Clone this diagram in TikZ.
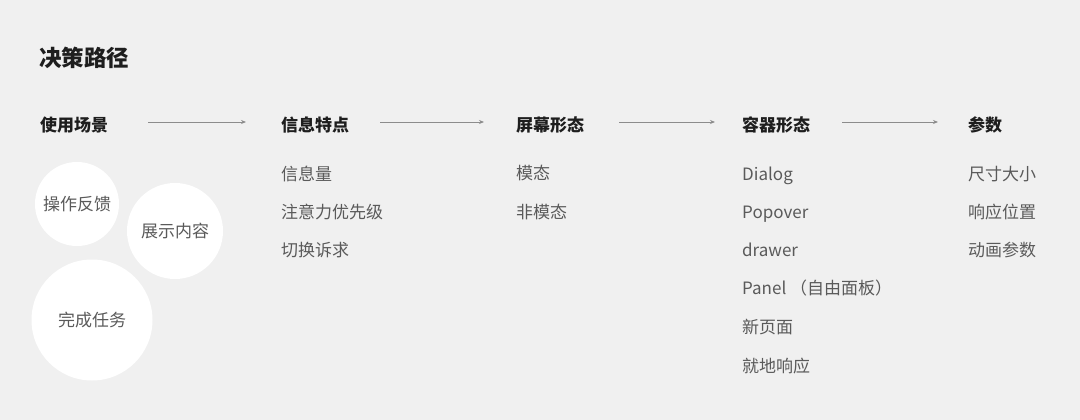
\documentclass[tikz,border=0pt]{standalone}
\usepackage{fontspec}
\usepackage{xcolor}
\usetikzlibrary{arrows.meta,positioning}
\setmainfont{Noto Sans CJK SC}
\definecolor{bgcol}{HTML}{F0F0F0}
\definecolor{itemcol}{HTML}{5A5A5A}
\definecolor{headcol}{HTML}{1E1E1E}
\definecolor{arrcol}{HTML}{8C8C8C}
\tikzset{>={Stealth[length=5pt,width=4pt]}}
\tikzset{
  head/.style={anchor=west,inner sep=0pt,text height=1.3em,text depth=0em,text=headcol,font=\fontsize{17}{17}\selectfont\bfseries},
  item/.style={anchor=west,inner sep=0pt,text height=1.3em,text depth=0em,text=itemcol,font=\fontsize{17}{17}\selectfont},
  bubble/.style={circle,fill=white,inner sep=0pt,text=itemcol,font=\fontsize{17}{17}\selectfont},
  flow/.style={->,draw=arrcol,line width=0.9pt}
}

\begin{document}
\begin{tikzpicture}[x=1pt,y=-1pt]
    \fill[bgcol] (0,0) rectangle (1080,420);
    \useasboundingbox (0,0) rectangle (1080,420);

    % title
    \node[head,font=\fontsize{22.5}{22.5}\selectfont\bfseries] (title) at (39,60) {决策路径};

    % column headers
    \node[head] (scene) at (40,125) {使用场景};
    \node[head] (info) at (281,125) {信息特点};
    \node[head] (screen) at (516,125) {屏幕形态};
    \node[head] (box) at (742,125) {容器形态};
    \node[head] (param) at (968,125) {参数};

    \draw[flow,shorten <=40pt,shorten >=35pt] ([yshift=3pt]scene.east) -- ([yshift=3pt]info.west);
    \draw[flow,shorten <=31pt,shorten >=32pt] ([yshift=3pt]info.east) -- ([yshift=3pt]screen.west);
    \draw[flow,shorten <=35pt,shorten >=27pt] ([yshift=3pt]screen.east) -- ([yshift=3pt]box.west);
    \draw[flow,shorten <=32pt,shorten >=30pt] ([yshift=3pt]box.east) -- ([yshift=3pt]param.west);

    % scenes
    \node[bubble,minimum size=84pt] (feedback) at (77,204) {操作反馈};
    \node[bubble,minimum size=96pt] (show) at (175,231) {展示内容};
    \node[bubble,minimum size=121pt] (task) at (92,320) {完成任务};

    % info
    \node[item] (amount) at (281,174) {信息量};
    \node[item] (focus) at (281,212) {注意力优先级};
    \node[item] (switch) at (281,250) {切换诉求};

    % screen
    \node[item] (modal) at (516,173) {模态};
    \node[item] (nonmodal) at (516,212) {非模态};

    % containers
    \node[item] (dialog) at (742,174) {Dialog};
    \node[item] (popover) at (742,212) {Popover};
    \node[item] (drawer) at (742,250) {drawer};
    \node[item] (panel) at (742,288) {Panel （自由面板）};
    \node[item] (page) at (742,327) {新页面};
    \node[item] (inplace) at (742,366) {就地响应};

    % params
    \node[item] (size) at (968,174) {尺寸大小};
    \node[item] (pos) at (968,212) {响应位置};
    \node[item] (anim) at (968,250) {动画参数};
\end{tikzpicture}
\end{document}
